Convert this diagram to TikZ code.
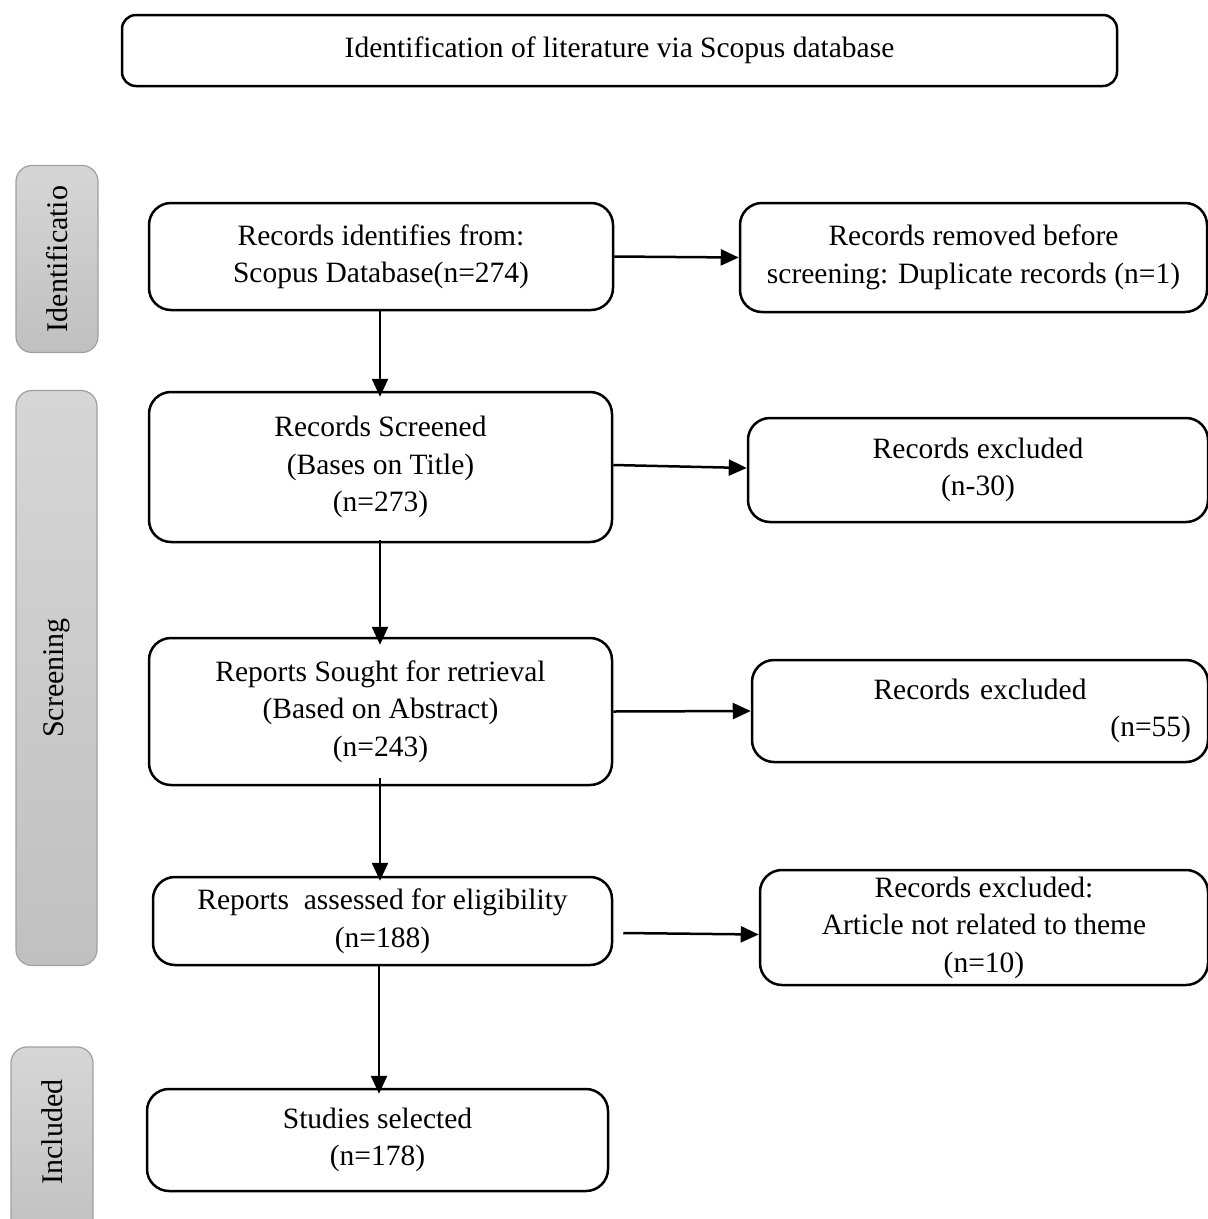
\documentclass[tikz,border=0pt]{standalone}
\usepackage{fontspec}
\setmainfont{Liberation Serif}
\usepackage{tikz}
\usetikzlibrary{arrows.meta, positioning, shapes.geometric, fit, calc}

\tikzset{
  flowbox/.style={draw, line width=2.5pt, rounded corners=22pt, align=center,
    inner sep=0pt, font=\fontsize{29.5}{37.5}\selectfont},
  stagebar/.style={draw={rgb,255:red,160;green,160;blue,160}, line width=1.2pt,
    rounded corners=16pt, top color={rgb,255:red,214;green,214;blue,214},
    bottom color={rgb,255:red,192;green,192;blue,192}, inner sep=0pt},
  stagetext/.style={rotate=90, font=\fontsize{30}{37}\selectfont},
  flowarrow/.style={line width=2.5pt, -{Triangle[length=18pt,width=16pt]}}
}

\begin{document}
\begin{tikzpicture}[x=1pt, y=-1pt]
  \clip (0,0) rectangle (1208,1219);

  % --- Header ---
  \node[flowbox, rounded corners=14pt, minimum width=995pt, minimum height=71pt] (head) at (619.5,50.5)
    {Identification of literature via Scopus database};

  % --- Stage bars (left) ---
  \node[stagebar, minimum width=82pt, minimum height=187pt] (ident) at (57,259) {};
  \node[stagetext] (identtxt) at (ident.center) {Identificatio};

  \node[stagebar, minimum width=81pt, minimum height=575pt] (screen) at (56.5,678) {};
  \node[stagetext] (screentxt) at (screen.center) {Screening};

  \node[stagebar, minimum width=82pt, minimum height=200pt] (incl) at (52,1147) {};
  \node[stagetext] (incltxt) at (52,1132) {Included};

  % --- Main column ---
  \node[flowbox, minimum width=464pt, minimum height=107pt] (recid) at (381,256.5)
    {Records identifies from:\\Scopus Database(n=274)};
  \node[flowbox, minimum width=463pt, minimum height=150pt] (recscr) at (380.5,467)
    {Records Screened\\(Bases on Title)\\(n=273)};
  \node[flowbox, minimum width=463pt, minimum height=147pt] (repsought) at (380.5,711.5)
    {Reports Sought for retrieval\\(Based on Abstract)\\(n=243)};
  \node[flowbox, minimum width=459pt, minimum height=88pt] (repelig) at (382.5,921)
    {Reports\ \ assessed for eligibility\\(n=188)};
  \node[flowbox, minimum width=461pt, minimum height=102pt] (studies) at (377.5,1140)
    {Studies selected\\(n=178)};

  % --- Right column ---
  \node[flowbox, minimum width=467pt, minimum height=109pt] (removed) at (973.5,257.5)
    {Records removed before\\screening: Duplicate records (n=1)};
  \node[flowbox, minimum width=460pt, minimum height=104pt] (excl1) at (978,470)
    {Records excluded\\(n-30)};
  \node[flowbox, minimum width=456pt, minimum height=102pt, text width=422pt] (excl2) at (980,711)
    {Records excluded\\\hspace*{\fill}(n=55)};
  \node[flowbox, minimum width=448pt, minimum height=115pt] (excl3) at (984,927.5)
    {Records excluded:\\Article not related to theme\\(n=10)};

  % --- Connectors ---
  \draw[flowarrow] (recid.east) -- (removed.west);
  \draw[flowarrow] ([yshift=2pt]recscr.east) -- ([yshift=2pt]excl1.west);
  \draw[flowarrow] (repsought.east) -- (excl2.west);
  \draw[flowarrow] ([xshift=10pt,yshift=-12pt]repelig.east) -- ([yshift=-7pt]excl3.west);

  \draw[flowarrow] (recid.south -| 380,0) -- ([yshift=-6pt]recscr.north -| 380,0);
  \draw[flowarrow] ([yshift=3pt]recscr.south -| 380,0) -- ([yshift=-8pt]repsought.north -| 380,0);
  \draw[flowarrow] ([yshift=8pt]repsought.south -| 380,0) -- ([yshift=-5pt]repelig.north -| 380,0);
  \draw[flowarrow] ([yshift=2pt]repelig.south -| 379,0) -- ([yshift=-6pt]studies.north -| 379,0);
\end{tikzpicture}
\end{document}
